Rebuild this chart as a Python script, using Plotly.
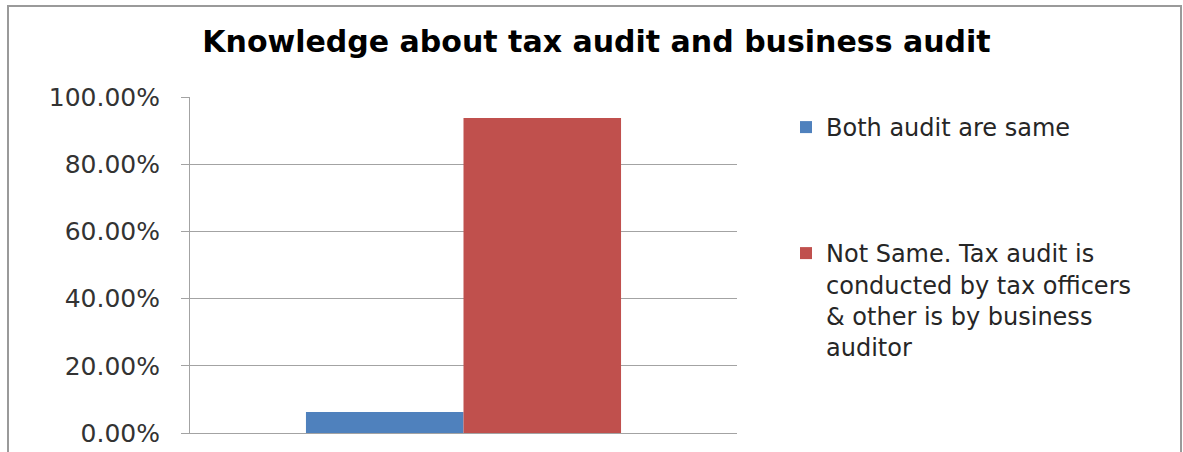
import plotly.graph_objects as go

# Survey responses: share of respondents per answer
categories = [""]
answers = [
    "Both audit are same",
    "Not Same. Tax audit is<br>conducted by tax officers<br>& other is by business<br>auditor",
]
shares = [0.0625, 0.9375]
colors = ["#4F81BD", "#C0504D"]
legend_ids = ["legend", "legend2"]
tick_values = [0, 0.2, 0.4, 0.6, 0.8, 1.0]

FONT = "DejaVu Sans"
GRID = "#A3A3A3"

fig = go.Figure()
for name, share, color, lg in zip(answers, shares, colors, legend_ids):
    fig.add_trace(go.Bar(
        x=categories, y=[share], name=name,
        marker=dict(color=color, line=dict(width=0)),
        legend=lg,
    ))

W, H = 1183, 452
L, R, T, B = 190, 446, 97, 19
pw, ph = W - L - R, H - T - B

def px_x(p):
    return (p - L) / pw

def px_y(p):
    return (H - B - p) / ph

fig.update_layout(
    width=W, height=H,
    margin=dict(l=L, r=R, t=T, b=B, autoexpand=False),
    paper_bgcolor="white", plot_bgcolor="white",
    barmode="group", bargap=0.424, bargroupgap=0,
    title=dict(
        text="<b>Knowledge about tax audit and business audit</b>",
        font=dict(family=FONT, size=30, color="#000000"),
        x=596.5 / W, xref="container", xanchor="center",
        y=1 - 41 / H, yref="container", yanchor="middle",
    ),
    xaxis=dict(
        showticklabels=False, showgrid=False, ticks="",
        showline=True, linecolor=GRID, linewidth=1,
    ),
    yaxis=dict(
        range=[0, 1], tickvals=tick_values, tickformat=".2%",
        showgrid=True, gridcolor=GRID, gridwidth=1,
        showline=True, linecolor=GRID, linewidth=1,
        ticks="outside", ticklen=8, tickcolor=GRID,
        ticklabelstandoff=16,
        tickfont=dict(family=FONT, size=25, color="#333333"),
        zeroline=False,
    ),
    legend=dict(
        x=px_x(786), y=px_y(105), xanchor="left", yanchor="top",
        font=dict(family=FONT, size=24, color="#262626"),
        bgcolor="rgba(0,0,0,0)",
    ),
    legend2=dict(
        x=px_x(786), y=px_y(231), xanchor="left", yanchor="top",
        font=dict(family=FONT, size=24, color="#262626"),
        bgcolor="rgba(0,0,0,0)", valign="top",
    ),
    showlegend=True,
    shapes=[dict(
        type="rect", xref="paper", yref="paper",
        x0=px_x(8), x1=px_x(1181), y0=px_y(470), y1=px_y(6),
        line=dict(color="#9A9A9A", width=2), fillcolor="rgba(0,0,0,0)",
        layer="below",
    )],
)

fig.write_html("out.html")
